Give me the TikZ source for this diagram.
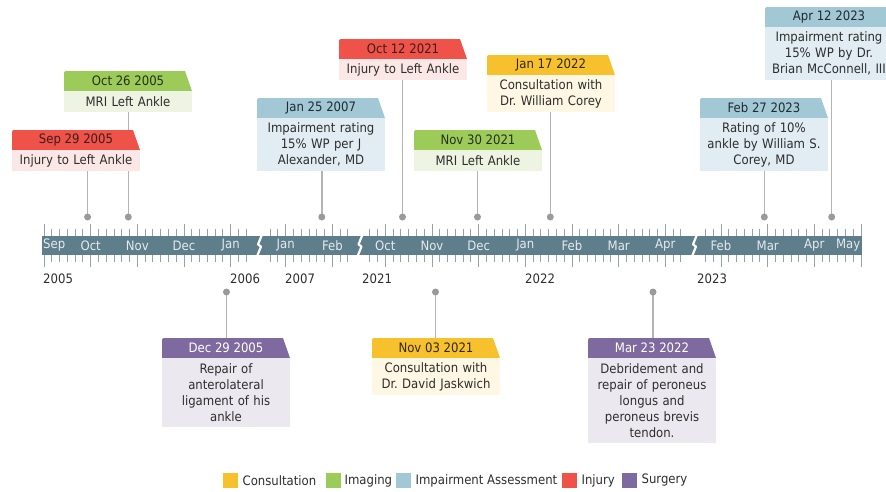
\documentclass[tikz,border=0pt]{standalone}
\usepackage{fontspec}
\setmainfont{DejaVu Sans Condensed}
\usetikzlibrary{backgrounds,positioning,calc}
\pgfdeclarelayer{stemlayer}
\pgfdeclarelayer{background}
\pgfsetlayers{stemlayer,background,main}
\definecolor{injH}{HTML}{EE5248}\definecolor{injB}{HTML}{FBE8E6}\definecolor{injT}{HTML}{3A1E1E}
\definecolor{imgH}{HTML}{9DCB59}\definecolor{imgB}{HTML}{EEF4E2}\definecolor{imgT}{HTML}{26301A}
\definecolor{impH}{HTML}{A2C8D6}\definecolor{impB}{HTML}{E1EDF2}\definecolor{impT}{HTML}{1F2B30}
\definecolor{conH}{HTML}{F6C12D}\definecolor{conB}{HTML}{FDF7E3}\definecolor{conT}{HTML}{33280A}
\definecolor{surH}{HTML}{7E6A9F}\definecolor{surB}{HTML}{ECE8F0}\definecolor{surT}{HTML}{FFFFFF}
\definecolor{barc}{HTML}{5F7E8B}\definecolor{tickc}{HTML}{93A3AA}
\definecolor{stemc}{HTML}{B4B4B4}\definecolor{dotc}{HTML}{9A9A9A}
\definecolor{txtc}{HTML}{2E2E2E}\definecolor{monc}{HTML}{E4EBEE}
\tikzset{
  fnt/.style={font=\fontsize{13}{16}\selectfont\frenchspacing},
  hdr/.style={fnt, minimum width=128pt, minimum height=20pt, inner sep=0pt, outer sep=0pt},
  bdy/.style={fnt, text=txtc, text width=120pt, inner xsep=4pt, inner ysep=0pt, outer sep=0pt, align=center},
  evdot/.style={circle, fill=dotc, minimum size=7pt, inner sep=0pt},
  stem/.style={draw=stemc, line width=1.5pt},
  tickline/.style={draw=tickc, line width=0.9pt},
  mon/.style={fnt, text=monc, inner sep=0pt},
  yr/.style={fnt, text=txtc, inner sep=0pt, anchor=west},
  legsq/.style={minimum size=15pt, inner sep=0pt},
  legtxt/.style={fnt, text=txtc, inner sep=0pt, anchor=west},
}
% #1 name, #2 left x, #3 header top y, #4 category, #5 date, #6 body, #7 lines, #8 event x, #9 0=top/1=bottom
\newcommand\evcall[9]{%
  \node[hdr, text=#4T, anchor=north west] (#1h) at (#2,#3) {#5};
  \node[bdy, fill=#4B, anchor=north west, minimum height={16*#7+5}] (#1b) at (#1h.south west) {#6};
  \begin{pgfonlayer}{background}
    \fill[#4H] (#1h.south west) -- ([yshift=-2pt]#1h.north west) to[out=90,in=180] ([xshift=2pt]#1h.north west) -- ([xshift=-7pt]#1h.north east) -- (#1h.south east) -- cycle;
  \end{pgfonlayer}
  \ifnum#9=0
    \node[evdot] (#1d) at (#8,217) {};
    \begin{pgfonlayer}{stemlayer}
    \draw[stem] (#1d.center) -- (#1d |- #1b.south);
    \end{pgfonlayer}
  \else
    \node[evdot] (#1d) at (#8,292) {};
    \begin{pgfonlayer}{stemlayer}
    \draw[stem] (#1d.center) -- (#1d |- #1h.north);
    \end{pgfonlayer}
  \fi
}
\newcommand\segticks[3]{%
  \foreach \i in {#2,...,#3}{%
    \pgfmathsetmacro\xx{#1+\i*7.77778}%
    \pgfmathtruncatemacro\mm{mod(\i+12,6)}%
    \ifnum\mm=0
      \draw[tickline] (\xx,224) -- (\xx,236) (\xx,255) -- (\xx,267);
    \else
      \draw[tickline] (\xx,228.5) -- (\xx,236) (\xx,255) -- (\xx,261.5);
    \fi
  }%
}
\begin{document}
\begin{tikzpicture}[x=1pt,y=-1pt]
\useasboundingbox (0,0) rectangle (886,491);
\clip (0,0) rectangle (886,491);
% ticks
\segticks{44}{0}{26}
\segticks{285.7}{-2}{8}
\segticks{385.3}{-2}{38}
\segticks{721}{-2}{18}
% bar
\fill[barc] (42,236) rectangle (862,255);
\foreach \b in {259.5,360,694.5}{
  \draw[white, line width=2.2pt, line join=round] (\b+2.5,234.5) -- (\b-1.5,244.5) -- (\b+1.5,246.5) -- (\b-2.5,256.5);
}
% month labels
\node[mon, anchor=west] (mSep05) at (43,245.5) {Sep};
\node[mon] (mOct05) at (90.7,245.5) {Oct};
\node[mon] (mNov05) at (137.3,245.5) {Nov};
\node[mon] (mDec05) at (184,245.5) {Dec};
\node[mon] (mJan06) at (230.7,245.5) {Jan};
\node[mon] (mJan07) at (285.7,245.5) {Jan};
\node[mon] (mFeb07) at (332.4,245.5) {Feb};
\node[mon] (mOct21) at (385.3,245.5) {Oct};
\node[mon] (mNov21) at (432,245.5) {Nov};
\node[mon] (mDec21) at (478.7,245.5) {Dec};
\node[mon] (mJan22) at (525.3,245.5) {Jan};
\node[mon] (mFeb22) at (572,245.5) {Feb};
\node[mon] (mMar22) at (618.7,245.5) {Mar};
\node[mon] (mApr22) at (665.3,245.5) {Apr};
\node[mon] (mFeb23) at (721,245.5) {Feb};
\node[mon] (mMar23) at (767.7,245.5) {Mar};
\node[mon] (mApr23) at (814.3,245.5) {Apr};
\node[mon, anchor=east] (mMay23) at (860.5,245.5) {May};
% years
\node[yr] (y2005) at (43,279) {2005};
\node[yr] (y2006) at (230,279) {2006};
\node[yr] (y2007) at (285,279) {2007};
\node[yr] (y2021) at (362,279) {2021};
\node[yr] (y2022) at (525,279) {2022};
\node[yr] (y2023) at (697,279) {2023};
% events above
\evcall{sep05}{12}{130}{inj}{Sep 29 2005}{Injury to Left Ankle}{1}{87.6}{0}
\evcall{oct05}{64}{71}{img}{Oct 26 2005}{MRI Left Ankle}{1}{128.3}{0}
\evcall{jan07}{257}{98}{imp}{Jan 25 2007}{Impairment rating\\15\% WP per J\\Alexander, MD}{3}{321.8}{0}
\evcall{oct21}{339}{39}{inj}{Oct 12 2021}{Injury to Left Ankle}{1}{402.5}{0}
\evcall{nov21}{414}{130}{img}{Nov 30 2021}{MRI Left Ankle}{1}{477.5}{0}
\evcall{jan22}{487}{55}{con}{Jan 17 2022}{Consultation with\\Dr. William Corey}{2}{550.3}{0}
\evcall{feb23}{700}{98}{imp}{Feb 27 2023}{Rating of 10\%\\ankle by William S.\\Corey, MD}{3}{764.3}{0}
\evcall{apr23}{765}{7}{imp}{Apr 12 2023}{Impairment rating\\15\% WP by Dr.\\Brian McConnell, III}{3}{831.7}{0}
% events below
\evcall{dec05}{162}{338}{sur}{Dec 29 2005}{Repair of\\anterolateral\\ligament of his\\ankle}{4}{226.5}{1}
\evcall{nov03}{372}{338}{con}{Nov 03 2021}{Consultation with\\Dr. David Jaskwich}{2}{435.5}{1}
\evcall{mar22}{588}{338}{sur}{Mar 23 2022}{Debridement and\\repair of peroneus\\longus and\\peroneus brevis\\tendon.}{5}{653}{1}
% legend
\node[legsq, fill=conH, anchor=west] (lq1) at (223,480.5) {};
\node[legtxt] (lt1) at ([xshift=4pt]lq1.east) {Consultation};
\node[legsq, fill=imgH, anchor=west] (lq2) at (326,480.5) {};
\node[legtxt] (lt2) at ([xshift=3pt]lq2.east) {Imaging};
\node[legsq, fill=impH, anchor=west] (lq3) at (396,480.5) {};
\node[legtxt] (lt3) at ([xshift=4pt]lq3.east) {Impairment Assessment};
\node[legsq, fill=injH, anchor=west] (lq4) at (562,480.5) {};
\node[legtxt] (lt4) at ([xshift=4pt]lq4.east) {Injury};
\node[legsq, fill=surH, anchor=west] (lq5) at (622,480.5) {};
\node[legtxt] (lt5) at ([xshift=4pt]lq5.east) {Surgery};
\end{tikzpicture}
\end{document}
